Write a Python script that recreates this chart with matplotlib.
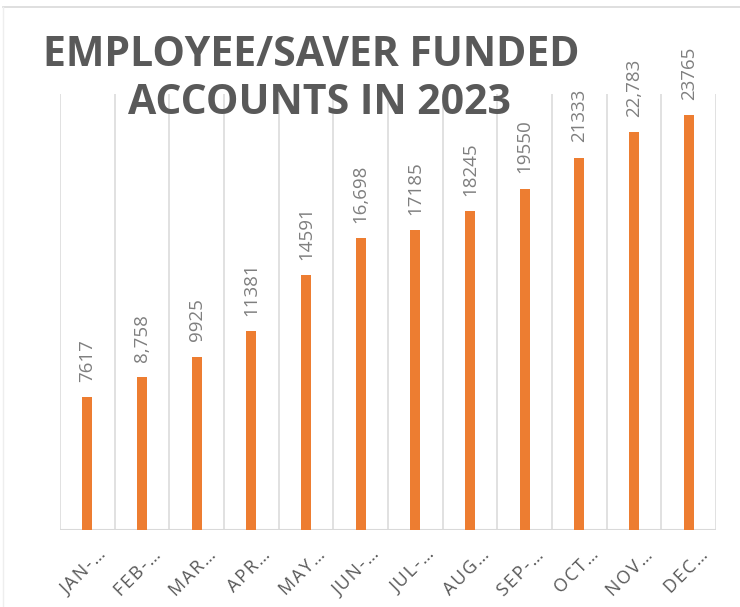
import matplotlib
matplotlib.use("Agg")
import matplotlib.pyplot as plt
import numpy as np
from matplotlib.lines import Line2D

months = ["JAN-…", "FEB-…", "MAR…", "APR…", "MAY…", "JUN-…",
          "JUL-…", "AUG…", "SEP-…", "OCT…", "NOV…", "DEC…"]
values = [7617, 8758, 9925, 11381, 14591, 16698,
          17185, 18245, 19550, 21333, 22783, 23765]
value_labels = ["7617", "8,758", "9925", "11381", "14591", "16,698",
                "17185", "18245", "19550", "21333", "22,783", "23765"]

bar_color = "#ED7D31"
grid_color = "#D9D9D9"


def spaced(s):
    # Excel-style letter spacing
    return "\u200a".join(s)


fig = plt.figure(figsize=(7.4, 6.07), dpi=100)
ax = fig.add_axes([60 / 740, 1 - 530 / 607, 656 / 740, 436.5 / 607])

x = np.arange(len(months))
ax.bar(x, values, width=0.18, color=bar_color, zorder=3)

ax.set_xlim(-0.5, len(months) - 0.5)
ax.set_ylim(0, 25000)

for b in np.arange(-0.5, len(months), 1.0):
    ax.axvline(b, color=grid_color, lw=1.1, zorder=1)
ax.axhline(0, color=grid_color, lw=2.2, zorder=2)

for s in ax.spines.values():
    s.set_visible(False)
ax.set_yticks([])
ax.set_xticks(x)
ax.set_xticklabels([])
ax.tick_params(axis="x", length=0)

for xi, v, lab in zip(x, values, value_labels):
    ax.annotate(lab, (xi, v), xytext=(0, 11), textcoords="offset points",
                rotation=90, ha="center", va="bottom", fontsize=13.5,
                color="#7F7F7F", family="Open Sans")

for xi, m in zip(x, months):
    ax.annotate(spaced(m), (xi, 0), xytext=(12, -16), textcoords="offset points",
                rotation=45, rotation_mode="anchor", ha="right", va="center",
                fontsize=13, color="#595959", family="Open Sans",
                annotation_clip=False)

fig.text(311 / 740, 1 - 55 / 607, "EMPLOYEE/SAVER FUNDED", ha="center", va="center",
         fontsize=29.5, fontweight="bold", color="#595959", family="Open Sans")
fig.text(320 / 740, 1 - 103 / 607, "ACCOUNTS IN 2023", ha="center", va="center",
         fontsize=29.5, fontweight="bold", color="#595959", family="Open Sans")

# chart frame
fig.add_artist(Line2D([3 / 740, 1], [1 - 7 / 607, 1 - 7 / 607], color=grid_color, lw=1.2))
fig.add_artist(Line2D([3 / 740, 3 / 740], [0, 1 - 7 / 607], color="#EEEEEE", lw=1.0))

fig.savefig("out.png", dpi=100)
